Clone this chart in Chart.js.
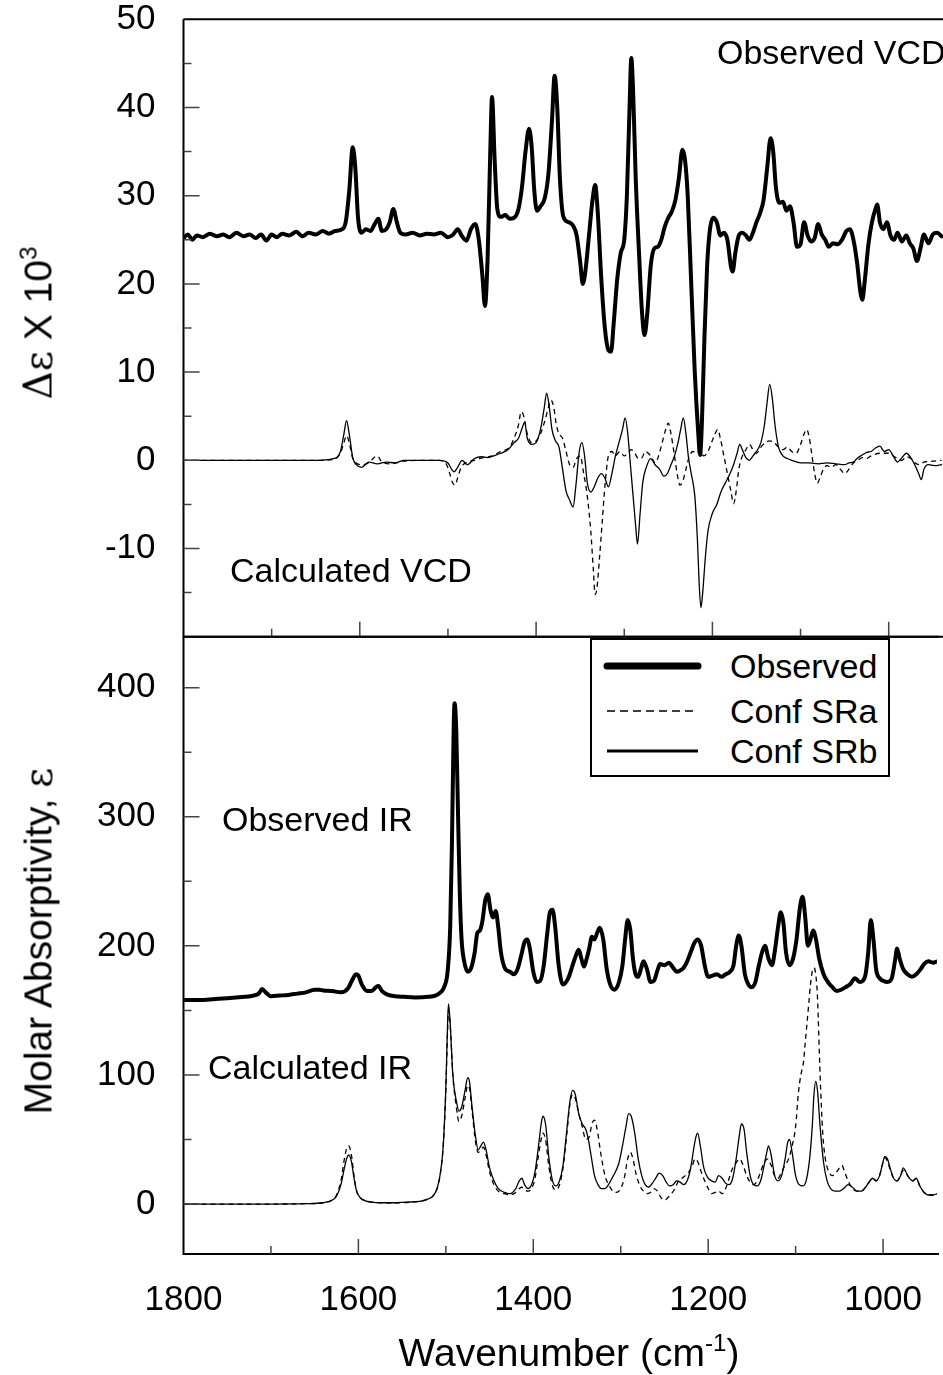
<!DOCTYPE html>
<html>
<head>
<meta charset="utf-8">
<script src="https://cdn.jsdelivr.net/npm/chart.js@4.4.1/dist/chart.umd.min.js"></script>
<style>
  html, body { margin: 0; padding: 0; background: #fff; overflow: hidden; }
  body { width: 943px; height: 1375px; position: relative; font-family: "Liberation Sans", Arial, sans-serif; color: #000; }
  canvas { position: absolute; left: 0; }
  #vcdChart { top: -40px; }
  #irChart { top: 597px; }
  .lbl { position: absolute; font-size: 34px; line-height: 34px; white-space: nowrap; }
  .title { position: absolute; font-size: 39px; line-height: 39px; white-space: nowrap; }
  .rot { transform: translate(-50%, -50%) rotate(-90deg); }
  sup { font-size: 0.62em; vertical-align: 0.62em; line-height: 0; }
  .greek { font-family: "DejaVu Serif", serif; }
  #legend { position: absolute; left: 590px; top: 638px; width: 300px; height: 139px; box-sizing: border-box; border: 2px solid #000; background: #fff; }
  #legend svg { position: absolute; left: -2px; top: -2px; }
  #legend .lbl { left: 138px; }
</style>
</head>
<body>
<canvas id="vcdChart" width="943" height="720"></canvas>
<canvas id="irChart" width="943" height="778"></canvas>

<div class="lbl" style="left:717px; top:35px;">Observed VCD</div>
<div class="lbl" style="left:230px; top:553px;">Calculated VCD</div>
<div class="lbl" style="left:222px; top:802px;">Observed IR</div>
<div class="lbl" style="left:208px; top:1050px;">Calculated IR</div>

<div class="title rot" style="left:38px; top:323px;"><span class="greek">Δε</span> X 10<sup>3</sup></div>
<div class="title rot" style="left:38px; top:941px;">Molar Absorptivity, <span class="greek">ε</span></div>
<div class="title" style="left:569px; top:1333px; transform:translateX(-50%);">Wavenumber (cm<sup>-1</sup>)</div>

<div id="legend">
  <svg width="300" height="139">
    <line x1="17" y1="28" x2="108" y2="28" stroke="#000" stroke-width="7" stroke-linecap="round"/>
    <line x1="17" y1="73" x2="107" y2="73" stroke="#000" stroke-width="1.5" stroke-dasharray="8 5"/>
    <line x1="17" y1="113" x2="108" y2="113" stroke="#000" stroke-width="3"/>
  </svg>
  <div class="lbl" style="top:9px;">Observed</div>
  <div class="lbl" style="top:54px;">Conf SRa</div>
  <div class="lbl" style="top:94px;">Conf SRb</div>
</div>

<script>
// [wavenumber, value] pairs, highest wavenumber first

// top panel: VCD, delta-epsilon x 10^3
const obsVcd = [
  [1800,25.2],[1795,25.6],[1790,25.0],[1785,25.5],[1778,25.3],[1770,25.7],[1762,25.4],[1755,25.6],
  [1748,25.3],[1740,25.8],[1732,25.4],[1725,25.6],[1718,25.2],[1712,25.6],[1706,24.9],[1700,25.6],
  [1694,25.3],[1688,25.7],[1680,25.5],[1672,25.9],[1665,25.4],[1658,25.8],[1650,25.6],[1642,26.0],
  [1635,25.7],[1628,26.0],[1620,26.2],[1616,27.0],[1612,30.5],[1608,35.5],[1605,33.0],[1602,27.5],
  [1598,25.8],[1593,26.2],[1588,26.0],[1583,26.8],[1579,27.4],[1575,26.0],[1570,26.2],[1566,27.0],
  [1562,28.5],[1558,27.0],[1554,25.8],[1548,25.6],[1540,25.8],[1532,25.5],[1524,25.7],[1516,25.6],
  [1508,25.8],[1500,25.3],[1494,25.6],[1489,26.2],[1484,25.4],[1479,24.9],[1474,26.2],[1469,26.8],
  [1465,25.0],[1461,21.0],[1458,17.5],[1455,23.0],[1452,35.0],[1450,41.2],[1447,34.0],[1444,28.5],
  [1440,27.6],[1435,27.8],[1430,27.4],[1425,27.5],[1420,28.5],[1416,31.0],[1412,35.0],[1408,37.6],
  [1405,35.5],[1402,30.5],[1399,28.3],[1395,28.8],[1390,29.8],[1386,32.5],[1382,38.5],[1379,43.6],
  [1376,40.0],[1373,32.0],[1369,27.6],[1363,27.0],[1358,26.6],[1354,25.5],[1350,22.5],[1347,20.0],
  [1344,21.5],[1340,25.5],[1336,29.5],[1333,31.2],[1330,28.0],[1326,20.5],[1322,15.0],[1318,12.5],
  [1315,12.3],[1312,15.5],[1308,20.5],[1304,23.5],[1300,25.0],[1297,30.0],[1294,40.0],[1292,45.6],
  [1290,42.0],[1287,32.0],[1283,23.0],[1280,17.0],[1277,14.2],[1274,16.5],[1270,22.0],[1266,24.0],
  [1262,24.2],[1258,25.0],[1254,26.5],[1250,27.5],[1246,28.2],[1242,29.5],[1238,32.0],[1234,35.2],
  [1231,34.0],[1228,30.0],[1224,20.0],[1220,10.0],[1216,3.0],[1214,0.6],[1212,4.0],[1209,14.0],
  [1206,22.0],[1203,26.0],[1199,27.5],[1195,27.0],[1191,25.5],[1187,25.8],[1183,25.0],[1179,22.0],
  [1177,21.4],[1174,23.5],[1170,25.5],[1166,25.8],[1162,25.5],[1158,25.0],[1154,25.8],[1150,27.0],
  [1146,28.0],[1142,29.5],[1138,33.0],[1134,36.5],[1131,35.0],[1128,31.0],[1124,29.2],[1120,29.3],
  [1116,28.3],[1112,28.8],[1108,27.0],[1104,24.2],[1100,24.5],[1096,27.0],[1092,25.5],[1088,24.8],
  [1084,25.2],[1080,26.8],[1076,25.6],[1072,25.0],[1068,24.2],[1063,24.6],[1058,24.5],[1053,25.0],
  [1048,26.0],[1044,26.2],[1040,25.0],[1036,22.5],[1032,19.0],[1030,18.2],[1027,20.5],[1023,24.5],
  [1019,27.0],[1015,28.5],[1013,29.0],[1010,27.0],[1006,26.2],[1002,27.0],[998,25.5],[994,25.0],
  [990,25.8],[985,24.8],[980,25.5],[976,24.6],[972,24.0],[968,22.6],[964,24.0],[960,25.6],
  [955,24.6],[950,25.6],[945,25.8],[940,25.4]
];

const calcVcdSRa = [
  [1800,0],[1700,0],[1650,0],[1630,0.1],[1622,0.8],[1618,2.0],[1615,2.8],[1612,2.0],[1608,0.2],
  [1604,-0.3],[1598,-0.5],[1590,-0.3],[1584,0.3],[1580,0.5],[1575,-0.2],[1565,-0.4],[1550,-0.1],
  [1530,0],[1510,0],[1502,-0.4],[1498,-1.5],[1495,-2.5],[1492,-2.8],[1489,-2.0],[1485,-0.8],
  [1480,-0.3],[1470,0],[1460,0.3],[1450,0.5],[1440,1.0],[1430,1.5],[1425,2.5],[1420,4.0],
  [1417,5.5],[1414,5.0],[1410,3.0],[1405,2.0],[1400,2.2],[1395,3.0],[1390,4.5],[1386,6.0],
  [1383,6.8],[1380,6.0],[1377,4.0],[1374,3.0],[1370,2.5],[1366,1.0],[1362,-0.5],[1358,-0.8],
  [1354,0.2],[1350,0.5],[1346,-1.5],[1342,-4.0],[1338,-8.0],[1335,-12.5],[1333,-15.2],[1331,-14.5],
  [1328,-11.0],[1325,-7.0],[1322,-3.0],[1318,0.5],[1314,1.0],[1310,0.5],[1305,1.0],[1300,0.5],
  [1296,0.8],[1292,1.2],[1288,0.8],[1284,0.2],[1280,0.3],[1276,1.0],[1270,0.5],[1265,-0.3],
  [1261,0.5],[1257,2.0],[1253,3.5],[1250,4.2],[1247,3.0],[1243,0.5],[1240,-1.5],[1237,-2.8],
  [1234,-2.5],[1230,-1.0],[1226,0.5],[1222,1.0],[1218,0.8],[1214,1.2],[1210,0.5],[1205,1.0],
  [1201,2.0],[1197,3.0],[1194,3.5],[1191,2.5],[1187,0.5],[1183,-1.5],[1179,-3.5],[1176,-4.9],
  [1173,-3.5],[1170,-1.0],[1166,0.5],[1162,1.2],[1158,1.8],[1154,1.2],[1150,0.8],[1145,1.5],
  [1140,2.0],[1135,2.2],[1130,2.0],[1125,1.5],[1120,1.2],[1115,1.5],[1110,1.0],[1105,0.8],
  [1100,1.8],[1096,3.0],[1093,3.5],[1090,2.5],[1087,0.5],[1084,-1.5],[1081,-2.6],[1078,-2.0],
  [1074,-1.0],[1070,-0.6],[1065,-0.8],[1060,-0.5],[1055,-1.0],[1050,-1.5],[1045,-1.0],[1040,-0.3],
  [1035,0.0],[1030,0.3],[1025,0.2],[1020,0.5],[1010,0.8],[1000,0.8],[995,0.5],[990,0.2],
  [985,0.0],[980,0.4],[975,0.2],[970,-0.3],[965,-0.5],[960,-0.2],[950,-0.1],[940,0]
];

const calcVcdSRb = [
  [1800,0],[1700,0],[1650,0],[1630,0.2],[1622,1.0],[1618,3.0],[1615,4.5],[1612,3.0],[1608,0.3],
  [1604,-0.5],[1598,-0.8],[1590,-0.2],[1580,-0.4],[1570,-0.2],[1560,-0.3],[1550,0],[1530,0],
  [1510,0],[1500,-0.3],[1496,-1.0],[1493,-1.3],[1489,-0.8],[1484,0],[1478,-0.5],[1470,0.2],
  [1462,0.4],[1455,0.3],[1448,0.5],[1440,0.8],[1432,1.2],[1425,2.0],[1420,2.5],[1416,3.6],
  [1413,4.3],[1410,2.5],[1405,1.8],[1400,2.0],[1395,3.5],[1391,5.8],[1388,7.6],[1385,6.0],
  [1382,3.5],[1378,2.2],[1374,1.5],[1370,-1.0],[1366,-3.5],[1362,-4.5],[1358,-5.3],[1355,-3.0],
  [1351,1.0],[1348,2.0],[1345,0.5],[1342,-2.5],[1338,-3.6],[1334,-3.0],[1330,-2.0],[1326,-1.5],
  [1322,-2.0],[1318,-3.0],[1314,-1.5],[1310,0.5],[1306,2.0],[1302,3.5],[1299,4.8],[1296,3.0],
  [1293,-0.5],[1290,-4.0],[1287,-7.5],[1285,-9.5],[1282,-6.0],[1279,-2.5],[1275,-0.8],[1270,0.2],
  [1265,-0.5],[1260,-1.0],[1255,-1.8],[1251,-1.5],[1247,-0.5],[1243,0.5],[1239,2.0],[1236,3.5],
  [1233,4.8],[1230,3.0],[1227,0.2],[1224,-1.5],[1220,-4.0],[1217,-9.0],[1215,-14.0],[1213,-16.7],
  [1211,-15.0],[1208,-11.0],[1205,-8.0],[1200,-6.0],[1195,-5.0],[1190,-3.5],[1185,-2.5],[1180,-1.5],
  [1176,-0.5],[1172,0.8],[1169,1.8],[1166,1.2],[1162,0.3],[1158,0.0],[1154,0.5],[1150,1.0],
  [1145,2.0],[1141,4.0],[1138,6.5],[1135,8.6],[1132,7.0],[1129,4.0],[1125,1.5],[1120,0.5],
  [1115,0.2],[1110,0.0],[1100,-0.3],[1090,-0.3],[1080,-0.4],[1070,-0.3],[1060,-0.4],[1050,-0.5],
  [1045,-0.3],[1040,-0.2],[1035,0.3],[1030,0.6],[1025,0.9],[1020,1.0],[1015,1.4],[1010,1.6],
  [1005,1.0],[1000,1.2],[995,0.5],[990,-0.2],[985,0.3],[980,0.8],[975,0.3],[970,-0.6],
  [966,-1.5],[963,-2.2],[960,-1.0],[955,-0.5],[948,-0.6],[940,-0.5]
];

// bottom panel: IR, molar absorptivity
const obsIr = [
  [1800,158],[1790,158],[1780,158],[1770,158.5],[1760,159],[1750,159.5],[1740,160],[1730,160.5],
  [1720,161.5],[1714,163],[1710,166.5],[1706,164],[1700,161],[1690,161.5],[1680,162],[1670,163],
  [1660,164],[1650,166],[1645,166],[1640,165.5],[1630,165],[1620,164],[1612,167],[1606,175],
  [1603,178],[1600,177],[1596,170],[1590,165],[1585,165],[1580,168],[1577,169],[1573,165],
  [1566,162],[1558,161],[1548,160.5],[1535,160],[1520,160.5],[1512,161.5],[1506,164],[1502,168],
  [1498,180],[1495,215],[1493,280],[1491,370],[1490,388],[1488,365],[1486,300],[1484,240],
  [1482,205],[1479,188],[1475,180],[1471,183],[1467,195],[1464,210],[1461,212],[1458,220],
  [1455,235],[1452,240],[1449,228],[1446,222],[1443,227],[1440,214],[1437,195],[1432,182],
  [1427,180],[1422,178],[1418,182],[1414,192],[1410,203],[1407,205],[1404,198],[1400,180],
  [1396,172],[1392,173],[1388,185],[1384,210],[1381,226],[1378,228],[1375,215],[1371,185],
  [1366,170],[1360,175],[1355,185],[1351,193],[1348,197],[1345,190],[1342,184],[1339,190],
  [1336,198],[1333,207],[1330,205],[1327,210],[1324,214],[1320,205],[1316,182],[1312,170],
  [1307,166],[1302,172],[1298,185],[1295,205],[1292,220],[1289,212],[1286,190],[1283,178],
  [1280,176],[1277,182],[1274,188],[1270,182],[1266,172],[1262,173],[1258,181],[1255,186],
  [1250,185],[1245,187],[1240,183],[1236,180],[1232,181],[1228,183],[1224,188],[1220,195],
  [1216,202],[1212,205],[1208,200],[1204,185],[1200,176],[1195,177],[1190,178],[1185,176],
  [1180,178],[1175,180],[1171,185],[1168,200],[1165,208],[1162,200],[1158,178],[1154,170],
  [1150,168],[1146,172],[1142,185],[1138,196],[1135,200],[1131,190],[1127,185],[1124,195],
  [1120,215],[1117,226],[1114,218],[1111,195],[1107,185],[1103,190],[1099,205],[1095,230],
  [1092,238],[1089,222],[1086,200],[1083,205],[1080,212],[1077,206],[1073,190],[1068,178],
  [1063,172],[1058,168],[1053,165],[1048,166],[1043,168],[1038,170],[1032,175],[1027,172],
  [1023,173],[1020,178],[1017,195],[1014,220],[1011,205],[1008,182],[1004,175],[1000,173],
  [995,172],[990,175],[986,190],[984,198],[981,190],[977,182],[972,178],[967,176],
  [962,178],[957,182],[953,186],[948,188],[943,187],[938,188]
];

const calcIrSRa = [
  [1800,0],[1700,0],[1660,0.3],[1640,1],[1630,3],[1625,7],[1620,18],[1616,35],[1613,44],[1611,45],
  [1608,38],[1605,22],[1602,10],[1598,5],[1592,2.5],[1585,1.5],[1575,1],[1560,0.8],[1545,1.2],
  [1530,2],[1520,4],[1515,6],[1510,12],[1506,25],[1503,45],[1500,88],[1498,135],[1497,150],
  [1495,138],[1492,100],[1488,75],[1485,64],[1482,68],[1478,82],[1475,92],[1473,90],[1470,72],
  [1466,48],[1463,40],[1460,42],[1457,44],[1454,38],[1450,25],[1445,15],[1440,10],[1433,8],
  [1427,7],[1420,9],[1416,12],[1413,13],[1410,11],[1406,10],[1402,12],[1398,20],[1394,38],
  [1391,50],[1389,55],[1386,50],[1382,28],[1378,14],[1374,11],[1370,15],[1366,28],[1362,52],
  [1358,78],[1355,85],[1352,82],[1348,70],[1344,60],[1340,50],[1336,52],[1333,62],[1330,65],
  [1327,58],[1323,40],[1318,22],[1313,14],[1309,10],[1305,9],[1300,12],[1296,20],[1292,35],
  [1289,40],[1286,35],[1282,22],[1278,14],[1274,10],[1270,8],[1266,9],[1262,12],[1258,10],
  [1254,5],[1250,3],[1246,5],[1242,8],[1238,12],[1234,18],[1230,20],[1226,22],[1222,25],
  [1218,30],[1215,35],[1212,33],[1208,25],[1204,18],[1200,12],[1196,8],[1192,9],[1188,10],
  [1184,8],[1180,12],[1176,20],[1172,28],[1168,32],[1164,35],[1160,30],[1156,22],[1152,17],
  [1148,15],[1144,18],[1140,25],[1136,32],[1132,35],[1128,30],[1124,22],[1120,20],[1116,25],
  [1112,30],[1108,35],[1104,45],[1100,60],[1097,85],[1094,100],[1091,110],[1089,125],[1087,140],
  [1085,155],[1083,170],[1081,180],[1079,183],[1077,178],[1075,160],[1072,100],[1069,55],
  [1066,35],[1062,25],[1058,22],[1054,24],[1050,28],[1047,30],[1044,25],[1040,18],[1035,12],
  [1030,10],[1025,10],[1020,13],[1015,18],[1012,20],[1008,18],[1004,22],[1001,30],[998,36],
  [995,33],[992,27],[988,20],[984,18],[980,22],[977,26],[974,24],[970,20],[966,18],[962,20],
  [958,14],[953,9],[948,7],[943,7],[938,8]
];

const calcIrSRb = [
  [1800,0],[1700,0],[1660,0.3],[1640,1],[1630,3],[1625,6],[1620,15],[1616,28],[1613,36],[1611,38],
  [1608,33],[1605,20],[1602,10],[1598,5],[1592,2.5],[1585,1.5],[1575,1],[1560,1],[1545,1.5],
  [1530,2],[1520,4],[1515,6],[1510,12],[1506,25],[1503,45],[1500,90],[1498,140],[1497,155],
  [1495,140],[1492,100],[1488,80],[1485,72],[1482,75],[1478,88],[1475,98],[1473,95],[1470,75],
  [1466,52],[1463,42],[1460,45],[1457,48],[1454,42],[1450,28],[1445,18],[1440,12],[1433,9],
  [1427,8],[1420,12],[1416,18],[1413,20],[1410,15],[1406,12],[1402,15],[1398,25],[1394,45],
  [1391,62],[1389,68],[1386,62],[1382,35],[1378,18],[1374,14],[1370,18],[1366,30],[1362,55],
  [1358,80],[1355,88],[1352,85],[1348,70],[1344,62],[1340,58],[1337,50],[1334,38],[1330,22],
  [1326,15],[1322,12],[1318,12],[1314,15],[1310,20],[1306,25],[1302,32],[1298,45],[1294,60],
  [1291,70],[1288,68],[1284,55],[1280,35],[1276,22],[1272,15],[1268,13],[1264,16],[1260,20],
  [1256,24],[1252,22],[1248,17],[1244,14],[1240,15],[1236,18],[1232,17],[1228,15],[1224,18],
  [1220,28],[1216,45],[1214,52],[1212,55],[1209,45],[1205,28],[1200,20],[1196,18],[1192,17],
  [1188,22],[1184,20],[1180,16],[1176,15],[1172,20],[1168,35],[1164,55],[1162,62],[1159,58],
  [1156,40],[1152,22],[1148,15],[1144,14],[1140,18],[1136,30],[1133,40],[1131,45],[1128,38],
  [1124,22],[1120,18],[1116,22],[1112,35],[1109,48],[1107,50],[1104,40],[1100,22],[1096,15],
  [1092,14],[1088,18],[1084,35],[1081,60],[1079,85],[1077,95],[1075,88],[1072,60],[1068,32],
  [1064,18],[1060,12],[1055,10],[1050,10],[1045,12],[1040,15],[1035,13],[1030,10],[1025,10],
  [1020,13],[1015,18],[1012,20],[1008,18],[1004,22],[1001,30],[998,37],[995,35],[992,28],
  [988,20],[984,18],[980,22],[977,28],[974,25],[970,20],[966,18],[962,20],[958,14],[953,9],
  [948,7],[943,7],[938,8]
];

// axis ranges
const wnRange = [938.4, 1800];
const vcdRange = [-20, 50];
const irRange = [-38.7, 439.5];

const FONT = '"Liberation Sans", Arial, sans-serif';

function toPoints(pairs) {
  return pairs.map(([x, y]) => ({ x, y }));
}

function lineSet(label, pairs, width, dash) {
  return {
    label,
    data: toPoints(pairs),
    borderColor: '#000',
    borderWidth: width,
    borderDash: dash || [],
    borderCapStyle: dash ? 'butt' : 'round',
    borderJoinStyle: 'round',
    pointRadius: 0,
    fill: false,
    cubicInterpolationMode: 'monotone'
  };
}

// frame with inward ticks (major + minor), like the original plot
const framePlugin = {
  id: 'frame',
  afterDraw(chart, args, opts) {
    const { ctx, chartArea: a, scales: { x, y } } = chart;
    ctx.save();
    ctx.strokeStyle = '#000';
    ctx.lineWidth = 2;
    ctx.beginPath();
    ctx.moveTo(a.left, a.top);
    ctx.lineTo(a.left, a.bottom);
    ctx.lineTo(a.right + 2, a.bottom);
    if (opts.top) {
      ctx.moveTo(a.left, a.top);
      ctx.lineTo(a.right + 2, a.top);
    }
    ctx.stroke();

    ctx.strokeStyle = '#444';
    ctx.lineWidth = 1.5;
    ctx.beginPath();
    // y ticks
    const y0 = Math.ceil(y.min / opts.yMinor);
    const y1 = Math.floor(y.max / opts.yMinor);
    for (let i = y0; i <= y1; i++) {
      const v = i * opts.yMinor;
      const py = y.getPixelForValue(v);
      if (py <= a.top + 1 || py >= a.bottom - 1) continue;
      const len = (i % (opts.yMajor / opts.yMinor) === 0) ? 16 : 8;
      ctx.moveTo(a.left, py);
      ctx.lineTo(a.left + len, py);
    }
    // x ticks, pointing up from the bottom edge
    const x0 = Math.ceil(x.min / opts.xMinor);
    const x1 = Math.floor(x.max / opts.xMinor);
    for (let i = x0; i <= x1; i++) {
      const v = i * opts.xMinor;
      const px = x.getPixelForValue(v);
      if (px <= a.left + 1 || px >= a.right) continue;
      const len = (i % (opts.xMajor / opts.xMinor) === 0) ? 15 : 8;
      ctx.moveTo(px, a.bottom);
      ctx.lineTo(px, a.bottom - len);
    }
    ctx.stroke();
    ctx.restore();
  }
};

const tickFont = { family: FONT, size: 35, lineHeight: 1 };

new Chart(document.getElementById('vcdChart'), {
  type: 'line',
  data: {
    datasets: [
      lineSet('Conf SRa', calcVcdSRa, 1.3, [5, 4]),
      lineSet('Conf SRb', calcVcdSRb, 1.3),
      lineSet('Observed', obsVcd, 4)
    ]
  },
  options: {
    responsive: false,
    animation: false,
    events: [],
    layout: { padding: { left: 0, right: 0, top: 59.3, bottom: 43.3 } },
    plugins: {
      legend: { display: false },
      tooltip: { enabled: false },
      frame: { top: true, yMinor: 5, yMajor: 10, xMinor: 100, xMajor: 200 }
    },
    scales: {
      x: { type: 'linear', reverse: true, min: wnRange[0], max: wnRange[1], display: false },
      y: {
        type: 'linear', min: vcdRange[0], max: vcdRange[1],
        afterFit: s => { s.width = 183.5; },
        grid: { display: false }, border: { display: false },
        ticks: { stepSize: 10, color: '#000', font: tickFont, padding: 20,
                 callback: v => (v === -20 ? '' : String(v)) }
      }
    }
  },
  plugins: [framePlugin]
});

new Chart(document.getElementById('irChart'), {
  type: 'line',
  data: {
    datasets: [
      lineSet('Conf SRa', calcIrSRa, 1.3, [5, 4]),
      lineSet('Conf SRb', calcIrSRb, 1.3),
      lineSet('Observed', obsIr, 4)
    ]
  },
  options: {
    responsive: false,
    animation: false,
    events: [],
    layout: { padding: { left: 0, right: 0, top: 39.7, bottom: 0 } },
    plugins: {
      legend: { display: false },
      tooltip: { enabled: false },
      frame: { top: true, yMinor: 50, yMajor: 100, xMinor: 100, xMajor: 200 }
    },
    scales: {
      x: {
        type: 'linear', reverse: true, min: wnRange[0], max: wnRange[1],
        afterFit: s => { s.height = 121; },
        grid: { display: false }, border: { display: false },
        ticks: { stepSize: 200, includeBounds: false, color: '#000', font: tickFont, padding: 21, maxRotation: 0,
                 callback: v => String(v) }
      },
      y: {
        type: 'linear', min: irRange[0], max: irRange[1],
        afterFit: s => { s.width = 183.5; },
        grid: { display: false }, border: { display: false },
        ticks: { stepSize: 100, includeBounds: false, color: '#000', font: tickFont, padding: 20,
                 callback: v => String(v) }
      }
    }
  },
  plugins: [framePlugin]
});
</script>
</body>
</html>
